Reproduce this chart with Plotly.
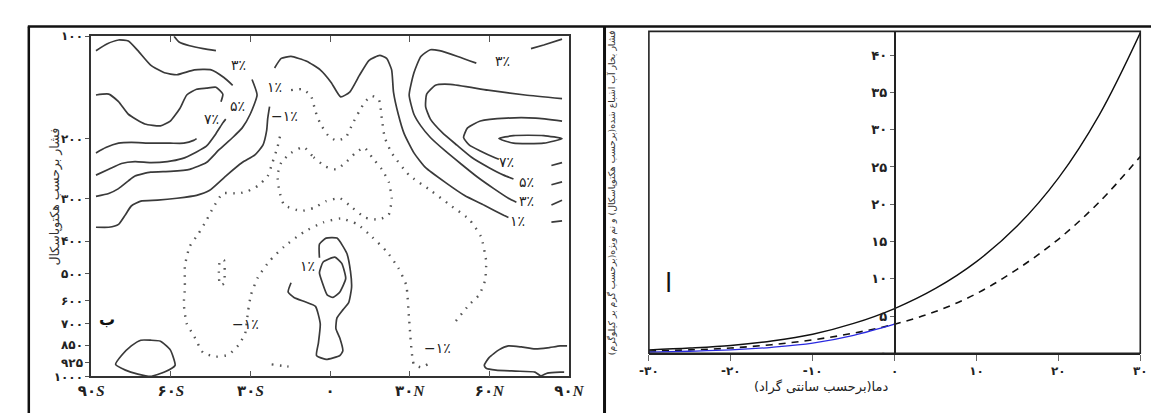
import math
import plotly.graph_objects as go

# ---------------- LEFT PANEL DATA (latitude, pressure hPa) ----------------
lat_ticks = [-90, -60, -30, 0, 30, 60, 90]
lat_tick_text = ["<b>۹۰<i>S</i></b>", "<b>۶۰<i>S</i></b>", "<b>۳۰<i>S</i></b>", "<b>۰</b>",
                 "<b>۳۰<i>N</i></b>", "<b>۶۰<i>N</i></b>", "<b>۹۰<i>N</i></b>"]
p_tick_pos = [100, 200, 300, 400, 500, 600, 700, 810, 910, 1000]
p_tick_text = ["۱۰۰", "۲۰۰", "۳۰۰", "۴۰۰", "۵۰۰", "۶۰۰", "۷۰۰", "۸۵۰", "۹۲۵", "۱۰۰۰"]

# solid contours (positive %)
cA_lat = [-88.2, -84.1, -79.7, -76.0, -72.4, -67.6, -62.4, -57.7, -51.1, -44.8, -40.0, -36.7]
cA_p = [110.3, 105.4, 102.6, 103.3, 110.3, 121.6, 128.1, 129.8, 125.6, 125.6, 132.3, 139.4]
cB_lat = [-58.8, -56.9, -52.9, -47.8, -43.0]
cB_p = [100, 104, 106.7, 108.8, 110.3]
cC_lat = [-88.2, -83.4, -79.7, -76.0, -69.8, -63.9, -60.2, -56.6, -54.0, -50.3, -46.6, -43.0, -40.4, -41.1]
cC_p = [148.9, 148, 155.8, 169.6, 181.1, 183.5, 177.6, 163.1, 148.9, 143.2, 142.2, 141.3, 148, 155.8]
cD_lat = [-88.2, -84.5, -79.7, -74.9, -67.6, -60.2, -55.1, -51.4, -50.3]
cD_p = [220.3, 212.5, 206.3, 205.1, 206.3, 206.3, 206.3, 202.4, 200]
cE_lat = [-88.2, -83.4, -78.6, -73.5, -67.6, -61.3, -55.8, -50.3, -46.6, -43.0, -40.4, -39.3]
cE_p = [256.1, 246.2, 236.7, 233.7, 235.2, 233.7, 229.1, 218.8, 210.5, 193.4, 179.8, 175.3]
cF_lat = [-88.2, -83.4, -79.7, -76.0, -73.5, -67.6, -60.2, -52.9, -46.6, -41.9, -36.7, -33.1, -30.1, -27.5, -29.4]
cF_p = [295.6, 289.9, 280.6, 266.3, 257.7, 251.0, 249.6, 246.2, 235.2, 216, 198.5, 186, 169.6, 148.9, 134.1]
# 1% line (left part, label gap, right part)
cG_lat = [-88.2, -83.4, -79.7, -77.1, -74.9, -71.3, -65.0, -57.7, -50.3, -45.5, -39.3, -33.1, -28.3, -25.3,
          -23.9, -23.5, -22.8, None,
          -20.9, -18.4, -14.7, -8.8, -3.7, 0.4, 4.0, 7.4, 11.0, 14.7, 18.7, 21.3, 23.2, 23.9, 25.7, 27.9,
          31.6, 36.0, 43.4, 50.7, 58.1, 65.4, 67.2]
cG_p = [364.4, 364.4, 357.3, 334.7, 315.6, 305.5, 303.5, 299.5, 293.7, 284.3, 257.7, 235.2, 223.2, 209.1,
        189.6, 174.7, 161, None,
        124, 116.2, 114.7, 118.5, 125.6, 136.7, 150.8, 146, 130.6, 117.7, 113.9, 116.2, 125.6, 146, 169.6, 193.4,
        220.3, 243.5, 269, 294, 314, 336, 341]
cG2_lat = [83.4, 87.4]
cG2_p = [352, 349]
# 3% line on the northern side
cJ_lat = [87.4, 80.5, 75.7, None, 55.1, 48.1, 41.2, 37.8, 34.2, 31.6, 29.8, 31.6, 34.2, 37.8, 43.4, 49.6,
          55.5, 61.7, 67.2, 70.2, None, 83.4, 87.4]
cJ_p = [102, 106.1, 108.8, None, 120, 114.7, 110.3, 109.6, 114.7, 128.1, 148.9, 169.6, 183.5, 198.5, 217.4,
        238.3, 259.4, 280.6, 299.5, 307.5, None, 313.6, 303.5]
# 5% line
cK_lat = [87.4, 73.5, 59.5, 45.2, 39.7, 36.4, 36.0, 37.8, 42.3, 47.8, 53.3, 59.9, 65.4, 69.1, None, 83.4, 87.4]
cK_p = [152.6, 148.9, 144.1, 138.5, 139.4, 148, 161, 175.3, 192.1, 209.1, 226.9, 243.5, 256.1, 262.8, None,
        273.3, 268.1]
# 7% line
cL_lat = [87.4, 77.5, 66.5, 56.6, 51.8, 50.3, 52.5, 56.6, 61.7, 63.6, None, 83.4, 87.4]
cL_p = [177.6, 174.1, 174.1, 177.6, 186, 198.5, 209.1, 217.4, 226.9, 229.9, None, 239.9, 235.2]
# closed 9% ellipse
cM_lat = [63.6, 69.1, 80.5, 87.4, 80.5, 69.1, 63.6]
cM_p = [200, 195.9, 195.9, 200, 206.3, 206.3, 200]
# near-surface blobs
cSW_lat = [-80.8, -78.6, -74.9, -71.3, -67.6, -63.9, -60.2, -58.4, -62.4, -67.6, -72.4, -77.1, -80.8]
cSW_p = [921.8, 868.5, 813.6, 782.9, 782.9, 787.9, 835.7, 928, 971.3, 1000, 984.4, 958.4, 921.8]
cSE_lat = [88.2, 86.7, 81.9, 79.4, 77.2, 69.8, 62.5, 58.8, 58.1, 59.9, 63.6, 67.2, 72.0, 77.2, 81.9, 86.7, 89.3]
cSE_p = [971.3, 971.3, 977.8, 997, 971.3, 964.9, 958.4, 946, 928, 880.5, 835.7, 813.6, 819.2, 830.1, 824.8,
         813.6, 813.6]
# tropical 1% blob (outer open line + inner closed loop)
cT_lat = [-4.0, -4.0, -1.5, 2.6, 6.3, 7.7, 8.1, 7.0, 4.8, 2.6, 2.2, 3.7, 4.8, 3.7, -1.5, -5.1, -4.4, -3.7,
          -5.5, -9.2, -13.6, -15.8, -14.7]
cT_p = [448.1, 408.6, 392.2, 392.2, 434.7, 492.2, 548, 607.2, 637.6, 673.2, 723.7, 772.6, 841.3, 868.5, 891.4,
        868.5, 798.2, 700.4, 622.6, 604.5, 586.1, 564.7, 530.6]
cTi_lat = [-2.6, 1.8, 4.4, 5.9, 3.7, 1.1, -1.1, -2.9, -4.0, -2.6]
cTi_p = [461.1, 446.1, 465.4, 515.3, 564.7, 586.1, 575.7, 530.6, 495.8, 461.1]

# dotted contours (-1%)
d1_lat = [-14.7, -10.6, -7.3, -5.5, -3.7, -0.7, 2.2, 5.9, 8.5, 11.0, 13.2, 15.8, 18.4, 19.5, 20.6, 23.2, 29.8,
          38.2, 45.2, 52.5, 56.9, 58.8, 58.4, 56.2, 52.5, 46.3, None,
          36.7, 34.2, 31.6, 29.8, 28.7, 25.7, 21.3, 15.8, 10.3, 4.0, -2.6, -9.9, -17.3, -22.8, -27.2, -29.8,
          -30.9, -32.0, -34.5, -38.2, -43.0, -47.8, -51.4, -54.0, -55.1, -54.7, -54.7, -52.9, -49.6, -46.6,
          -44.1, -40.4, -34.5, -30.9, -27.2, -23.5, -21.7, -19.8, -18.4]
d1_p = [144.1, 143.2, 148.9, 166.3, 180.6, 195.9, 202.4, 198.5, 180.6, 166.3, 155.8, 149.9, 153.8, 174.7, 198.5,
        220.3, 256.1, 285.1, 313.6, 345.9, 389, 458, 522, 575.7, 614.6, 705, None,
        922, 940, 922, 682.4, 539.3, 479.5, 429.1, 389, 357.3, 343.6, 352.7, 376.5, 415.3, 458, 511.8, 575.7,
        643.3, 747.7, 808.7, 863.4, 874.8, 852.2, 757.6, 700.4, 614.6, 548, 473.2, 415.3, 380.6, 348,
        319.8, 289.9, 289.9, 285.1, 275.2, 257.7, 235.2, 211.8, 189.6]
d2_lat = [-9.9, -6.2, -1.8, 2.2, 5.9, 9.6, 12.9, 15.8, 19.5, 22.1, 23.2, 22.1, 18.4, 13.2, 8.5, 3.7, -1.5,
          -6.2, -11.0, -17.3, -19.1, -19.8, -18.4, -14.7, -9.9]
d2_p = [211.8, 226.9, 241.4, 246.2, 235.2, 220.3, 212.5, 226.9, 246.2, 268.1, 299.5, 334.7, 345.9, 341.3, 319.8,
        299.5, 305.5, 319.8, 326.1, 313.6, 285.1, 256.1, 235.2, 220.3, 211.8]
d3_lat = [-41.5, -40.0, -39.7, -40.0, -41.5, -41.9, -41.5]
d3_p = [458, 455, 489, 534, 537.6, 495.7, 458]
d4_lat = [-22.0, -18.0, -13.6]
d4_p = [922, 931, 940]

label_text = ["۳٪", "۵٪", "۷٪", "۱٪", "−۱٪", "۳٪", "۷٪", "۵٪", "۳٪", "۱٪", "۱٪", "−۱٪", "−۱٪"]
label_lat = [-34.5, -34.9, -44.8, -20.9, -17.3, 65.0, 66.5, 74.2, 74.2, 70.5, -8.4, -31.7, 40.4]
label_p = [121.6, 160, 175.3, 141.3, 171.9, 118.5, 233.7, 268.1, 305.5, 349.4, 473.2, 700, 824.8]

# ---------------- RIGHT PANEL DATA ----------------
temp_c = [-30, -25, -20, -15, -10, -5, 0, 5, 10, 15, 20, 25, 30]
svp_water_hpa = [0.45, 0.7, 1.05, 1.65, 2.55, 4.0, 6.0, 8.7, 12.3, 17.1, 23.5, 32.0, 43.0]
specific_hum_gkg = [0.3, 0.45, 0.7, 1.15, 1.8, 2.7, 3.9, 5.6, 8.0, 11.3, 15.3, 20.3, 26.4]
temp_ice_c = [-30, -25, -20, -15, -10, -5, 0]
ice_curve = [0.15, 0.27, 0.45, 0.8, 1.35, 2.4, 3.9]
t_ticks = [-30, -20, -10, 0, 10, 20, 30]
t_tick_text = ["-۳۰", "-۲۰", "-۱۰", "۰", "۱۰", "۲۰", "۳۰"]
v_ticks = [0, 5, 10, 15, 20, 25, 30, 35, 40]
v_tick_text = ["۰", "۵", "۱۰", "۱۵", "۲۰", "۲۵", "۳۰", "۳۵", "۴۰"]

W, H = 1159, 413
fig = go.Figure()

SOLID = dict(color="#3a3a3a", width=1.7, shape="spline", smoothing=0.5)
DOT = dict(color="#555555", width=2.4, dash="1.5px,6.5px", shape="spline", smoothing=0.5)

solid_sets = [(cA_lat, cA_p), (cB_lat, cB_p), (cC_lat, cC_p), (cD_lat, cD_p), (cE_lat, cE_p),
              (cF_lat, cF_p), (cG_lat, cG_p), (cG2_lat, cG2_p), (cJ_lat, cJ_p), (cK_lat, cK_p),
              (cL_lat, cL_p), (cM_lat, cM_p), (cSW_lat, cSW_p), (cSE_lat, cSE_p), (cT_lat, cT_p),
              (cTi_lat, cTi_p)]
for la, pp in solid_sets:
    fig.add_trace(go.Scatter(x=la, y=pp, mode="lines", line=SOLID, xaxis="x", yaxis="y",
                             hoverinfo="skip", connectgaps=False))
for la, pp in [(d1_lat, d1_p), (d2_lat, d2_p), (d3_lat, d3_p), (d4_lat, d4_p)]:
    fig.add_trace(go.Scatter(x=la, y=pp, mode="lines", line=DOT, xaxis="x", yaxis="y",
                             hoverinfo="skip", connectgaps=False))

# right panel curves
fig.add_trace(go.Scatter(x=temp_c, y=svp_water_hpa, mode="lines", xaxis="x2", yaxis="y2",
                         line=dict(color="#111111", width=1.4, shape="spline")))
fig.add_trace(go.Scatter(x=temp_c, y=specific_hum_gkg, mode="lines", xaxis="x2", yaxis="y2",
                         line=dict(color="#111111", width=1.6, dash="7px,6px", shape="spline")))
fig.add_trace(go.Scatter(x=temp_ice_c, y=ice_curve, mode="lines", xaxis="x2", yaxis="y2",
                         line=dict(color="#2a2ae0", width=1.3, shape="spline")))

FA = "DejaVu Sans"
annotations = []
for t, la, pp in zip(label_text, label_lat, label_p):
    annotations.append(dict(x=la, y=math.log10(pp), xref="x", yref="y", text=t, showarrow=False,
                            font=dict(family=FA, size=14, color="#222")))
annotations += [
    dict(x=-84.0, y=math.log10(680), xref="x", yref="y", text="<b>ب</b>", showarrow=False,
         font=dict(family=FA, size=16, color="#111")),
    dict(x=25 / W, y=1 - 188 / H, xref="paper", yref="paper", text="فشار برحسب هکتوپاسکال",
         textangle=-90, showarrow=False, font=dict(family=FA, size=12.5, color="#333")),
    dict(x=607 / W, y=1 - 184 / H, xref="paper", yref="paper",
         text="فشار بخار آب اشباع شده(برحسب هکتوپاسکال) و نم ویژه(برحسب گرم بر کیلوگرم)",
         textangle=-90, showarrow=False, font=dict(family=FA, size=9.3, color="#333")),
    dict(x=892 / W, y=1 - 396 / H, xref="paper", yref="paper", text="دما(برحسب سانتی گراد)",
         showarrow=False, font=dict(family=FA, size=13, color="#222")),
    dict(x=664 / W, y=1 - 296 / H, xref="paper", yref="paper", text="ا", showarrow=False,
         font=dict(family=FA, size=26, color="#111")),
]

xl0, xl1 = 72 / W, 562 / W
yl0, yl1 = 1 - 375 / H, 1 - 22 / H
xr0, xr1 = 644 / W, 1148 / W
yr0, yr1 = 1 - 351 / H, 1 - 17 / H

TICKF = dict(family="Liberation Serif, DejaVu Sans", size=15, color="#222")

fig.update_layout(
    width=W, height=H, margin=dict(l=0, r=0, t=0, b=0),
    paper_bgcolor="white", plot_bgcolor="white", showlegend=False,
    xaxis=dict(domain=[xl0, xl1], range=[-90, 90], anchor="y", tickvals=lat_ticks, ticktext=lat_tick_text,
               ticks="inside", ticklen=6, tickcolor="#555", mirror="ticks", showline=True, linecolor="#333",
               linewidth=1.6, showgrid=False, zeroline=False, tickfont=TICKF),
    yaxis=dict(domain=[yl0, yl1], type="log", range=[3, 2], anchor="x", tickvals=p_tick_pos,
               ticktext=["<b>" + t + "</b>" for t in p_tick_text], ticks="outside", ticklen=4,
               tickcolor="#555", showline=True,
               mirror=True, linecolor="#333", linewidth=1.6, showgrid=False, zeroline=False,
               tickfont=dict(family=FA, size=12, color="#222")),
    yaxis3=dict(overlaying="y", side="right", anchor="x", type="log", range=[3, 2], tickvals=p_tick_pos,
                ticks="inside", ticklen=5, tickcolor="#555", showticklabels=False, showline=False,
                showgrid=False, zeroline=False),
    xaxis2=dict(domain=[xr0, xr1], range=[-30, 30], anchor="y2", tickvals=t_ticks,
                ticktext=["<b>" + t + "</b>" for t in t_tick_text],
                ticks="outside", ticklen=6, tickcolor="#666", showline=True, linecolor="#222", linewidth=1.6,
                showgrid=False, zeroline=False, tickfont=dict(family=FA, size=12, color="#222")),
    yaxis2=dict(domain=[yr0, yr1], range=[0, 43.2], anchor="free", position=(xr0 + xr1) / 2,
                tickvals=v_ticks, ticktext=["<b>" + t + "</b>" for t in v_tick_text], ticks="outside",
                ticklen=4, tickcolor="#666",
                showline=True, linecolor="#222", linewidth=1.6, showgrid=False, zeroline=False,
                tickfont=dict(family=FA, size=13, color="#222")),
    annotations=annotations,
    shapes=[
        dict(type="rect", xref="x2 domain", yref="y2 domain", x0=0, x1=1, y0=0, y1=1,
             line=dict(color="#222", width=1.6)),
        dict(type="line", xref="paper", yref="paper", x0=7 / W, x1=1, y0=1 - 12 / H, y1=1 - 12 / H,
             line=dict(color="#111", width=2.5)),
        dict(type="line", xref="paper", yref="paper", x0=8 / W, x1=8 / W, y0=0, y1=1 - 12 / H,
             line=dict(color="#111", width=2.5)),
        dict(type="line", xref="paper", yref="paper", x0=598.5 / W, x1=598.5 / W, y0=0, y1=1 - 12 / H,
             line=dict(color="#111", width=3)),
    ],
)

fig.write_html("out.html")
